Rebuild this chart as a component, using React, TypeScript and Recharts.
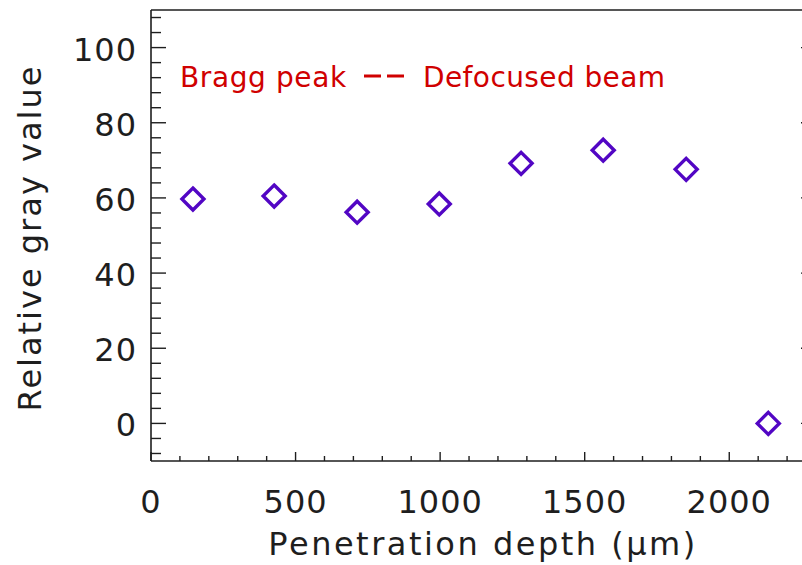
import { ScatterChart, Scatter, XAxis, YAxis, Customized } from 'recharts';

// penetration depth (um) and relative gray value
const depth = [145, 426, 713, 997, 1280, 1564, 1851, 2135];
const grayValue = [59.7, 60.5, 56.2, 58.4, 69.2, 72.7, 67.6, 0];

const xTicks = [
  0, 100, 200, 300, 400, 500, 600, 700, 800, 900, 1000, 1100, 1200, 1300, 1400, 1500, 1600, 1700,
  1800, 1900, 2000, 2100, 2200, 2300,
];
const xLabels = [0, 500, 1000, 1500, 2000];
const yTicks = [
  -8, -4, 0, 4, 8, 12, 16, 20, 24, 28, 32, 36, 40, 44, 48, 52, 56, 60, 64, 68, 72, 76, 80, 84, 88,
  92, 96, 100, 104, 108,
];
const yLabels = [0, 20, 40, 60, 80, 100];

const data = depth.map((d, i) => ({ depth: d, value: grayValue[i] }));

const FONT = '"DejaVu Sans", sans-serif';
const INK = '#1e1e1e';
const PURPLE = '#5206c4';
const RED = '#d00000';

// ticks point into the plot, so each tick draws its own line
function BottomTick({ x, y, payload }: any) {
  const major = xLabels.includes(payload.value);
  return (
    <g>
      <line x1={x} x2={x} y1={y} y2={y - (major ? 9 : 5)} stroke={INK} strokeWidth={1.4} />
      {major && (
        <text x={x} y={y + 52} textAnchor="middle" fontFamily={FONT} fontSize={32} fill={INK} letterSpacing={1}>
          {payload.value}
        </text>
      )}
    </g>
  );
}

function TopTick({ x, y, payload }: any) {
  const major = xLabels.includes(payload.value);
  return <line x1={x} x2={x} y1={y} y2={y + (major ? 9 : 5)} stroke={INK} strokeWidth={1.4} />;
}

function LeftTick({ x, y, payload }: any) {
  const major = yLabels.includes(payload.value);
  return (
    <g>
      <line x1={x} x2={x + (major ? 15 : 10)} y1={y} y2={y} stroke={INK} strokeWidth={1.4} />
      {major && (
        <text x={x - 14} y={y + 13} textAnchor="end" fontFamily={FONT} fontSize={32} fill={INK} letterSpacing={1}>
          {payload.value}
        </text>
      )}
    </g>
  );
}

function RightTick({ x, y, payload }: any) {
  const major = yLabels.includes(payload.value);
  return <line x1={x} x2={x - (major ? 15 : 10)} y1={y} y2={y} stroke={INK} strokeWidth={1.4} />;
}

function Diamond({ cx, cy }: any) {
  const r = 11;
  return (
    <path
      d={`M${cx},${cy - r} L${cx + r},${cy} L${cx},${cy + r} L${cx - r},${cy} Z`}
      fill="none"
      stroke={PURPLE}
      strokeWidth={3.4}
    />
  );
}

function Annotations() {
  return (
    <g fontFamily={FONT}>
      <text x={180} y={87} fontSize={28} fill={RED} letterSpacing={0.6}>
        Bragg peak
      </text>
      <line x1={364} x2={404} y1={76} y2={76} stroke={RED} strokeWidth={3} strokeDasharray="17 6" />
      <text x={423} y={87} fontSize={28} fill={RED} letterSpacing={0.4}>
        Defocused beam
      </text>
      <text x={483} y={555} textAnchor="middle" fontSize={32} fill={INK} letterSpacing={2.5}>
        Penetration depth (μm)
      </text>
      <text
        x={41}
        y={238}
        transform="rotate(-90 41 238)"
        textAnchor="middle"
        fontSize={32}
        fill={INK}
        letterSpacing={2}
      >
        Relative gray value
      </text>
    </g>
  );
}

export default function App() {
  return (
    <div
      style={{
        position: 'absolute',
        top: 0,
        left: 0,
        width: 802,
        height: 565,
        overflow: 'hidden',
        background: '#fff',
      }}
    >
      <ScatterChart width={830} height={565} margin={{ top: 9, right: 13, bottom: 103, left: 150 }}>
        <XAxis
          xAxisId="b"
          dataKey="depth"
          type="number"
          domain={[0, 2300]}
          ticks={xTicks}
          interval={0}
          allowDataOverflow
          height={1}
          tickSize={0}
          tickMargin={0}
          tickLine={false}
          axisLine={{ stroke: INK, strokeWidth: 1.6 }}
          tick={<BottomTick />}
        />
        <XAxis
          xAxisId="t"
          orientation="top"
          type="number"
          domain={[0, 2300]}
          ticks={xTicks}
          interval={0}
          allowDataOverflow
          height={1}
          tickSize={0}
          tickMargin={0}
          tickLine={false}
          axisLine={{ stroke: INK, strokeWidth: 1.6 }}
          tick={<TopTick />}
        />
        <YAxis
          yAxisId="l"
          dataKey="value"
          type="number"
          domain={[-10, 110]}
          ticks={yTicks}
          interval={0}
          allowDataOverflow
          width={1}
          tickSize={0}
          tickMargin={0}
          tickLine={false}
          axisLine={{ stroke: INK, strokeWidth: 1.6 }}
          tick={<LeftTick />}
        />
        <YAxis
          yAxisId="r"
          orientation="right"
          type="number"
          domain={[-10, 110]}
          ticks={yTicks}
          interval={0}
          allowDataOverflow
          width={1}
          tickSize={0}
          tickMargin={0}
          tickLine={false}
          axisLine={{ stroke: INK, strokeWidth: 1.6 }}
          tick={<RightTick />}
        />
        <Scatter data={data} xAxisId="b" yAxisId="l" shape={<Diamond />} isAnimationActive={false} />
        <Customized component={<Annotations />} />
      </ScatterChart>
    </div>
  );
}
